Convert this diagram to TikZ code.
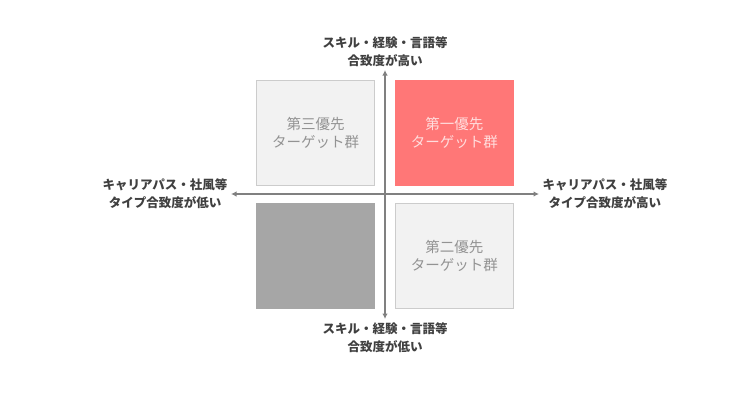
\documentclass[tikz,border=0pt]{standalone}
\usepackage{fontspec}
\setmainfont{Noto Sans CJK JP}
\usetikzlibrary{positioning,arrows.meta}
\definecolor{axisgray}{HTML}{808080}
\definecolor{boxfill}{HTML}{F2F2F2}
\definecolor{boxline}{HTML}{CCCCCC}
\definecolor{firstred}{HTML}{FF7777}
\definecolor{darkbox}{HTML}{A6A6A6}
\definecolor{labeltext}{HTML}{404040}

\begin{document}
\begin{tikzpicture}[x=1pt,y=-1pt,node distance=10pt,
	quad/.style={draw=boxline,fill=boxfill,line width=0.8pt,minimum width=118pt,minimum height=105pt,inner sep=0pt,
		align=center,font=\fontsize{14.5}{18}\selectfont,text=axisgray!85},
	axislabel/.style={align=center,font=\bfseries\fontsize{12.5}{18}\selectfont,text=labeltext},
	axis/.style={draw=axisgray,line width=1.9pt,{Latex[length=5.5pt,width=5.5pt]}-{Latex[length=5.5pt,width=5.5pt]}}]
	\useasboundingbox (0,0) rectangle (750,407);
	\coordinate (o) at (385,194);
	\node[quad,above right=8pt and 10pt of o,fill=firstred,draw=firstred,text=white!75!firstred] (q1) {第一優先\\ターゲット群};
	\node[quad,above left=8pt and 10pt of o]                (q3) {第三優先\\ターゲット群};
	\node[quad,below right=9pt and 10pt of o]               (q2) {第二優先\\ターゲット群};
	\node[quad,below left=9pt and 10pt of o,fill=darkbox,draw=darkbox] (q4) {};
	\coordinate (top) at (385,70);
	\coordinate (bottom) at (385,319);
	\coordinate (left) at (231,194);
	\coordinate (right) at (539,194);
	\draw[axis] (bottom) -- (top);
	\draw[axis] (left) -- (right);
	\node[axislabel,above=0pt of top]    (ltop)    {スキル・経験・言語等\\合致度が高い};
	\node[axislabel,below=0pt of bottom] (lbottom) {スキル・経験・言語等\\合致度が低い};
	\node[axislabel,left=0pt of left]    (lleft)   {キャリアパス・社風等\\タイプ合致度が低い};
	\node[axislabel,right=0pt of right]  (lright)  {キャリアパス・社風等\\タイプ合致度が高い};
\end{tikzpicture}
\end{document}
